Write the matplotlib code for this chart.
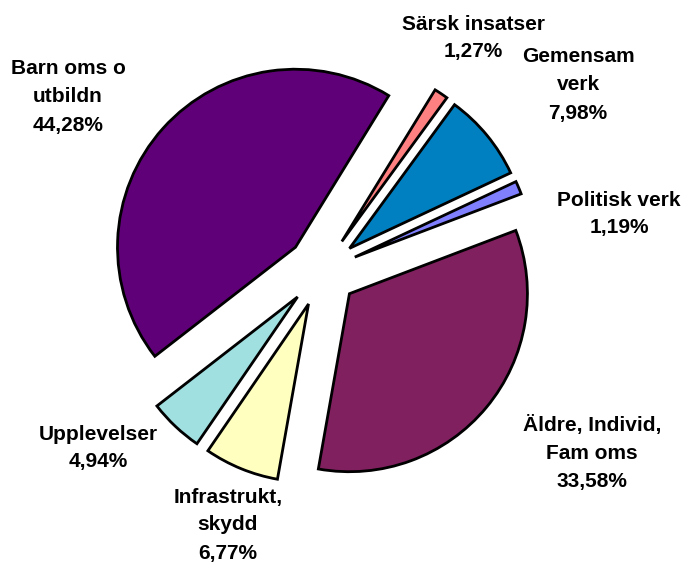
import matplotlib.pyplot as plt

# Andel per verksamhet (procent), medurs från toppen
names = ['Särsk insatser', 'Gemensam\nverk', 'Politisk verk',
         'Äldre, Individ,\nFam oms', 'Infrastrukt,\nskydd', 'Upplevelser',
         'Barn oms o\nutbildn']
shares = [1.27, 7.98, 1.19, 33.58, 6.77, 4.94, 44.28]
colors = ['#FF8080', '#0080C0', '#8080FF', '#80205F', '#FFFFC0', '#A0E0E0', '#600078']

# label centres in pixel coords (x, y from top)
label_pos = [(473, 38), (578, 85), (619, 214), (592, 453), (228, 525), (98, 448), (68, 97)]

W, H = 683, 562
R = 178
fig = plt.figure(figsize=(W / 100, H / 100), dpi=100)
ax = fig.add_axes([0, 0, 1, 1])

# explode is in data units here, so scale by radius
ax.pie(shares, explode=[0.2 * R] * len(shares), colors=colors,
       startangle=58.4, counterclock=False,
       radius=R, center=(322, H - 271),
       wedgeprops=dict(edgecolor='black', linewidth=2, joinstyle='miter'))

ax.set_xlim(0, W)
ax.set_ylim(0, H)
ax.set_aspect('equal')
ax.axis('off')

for name, v, (x, y) in zip(names, shares, label_pos):
    txt = name + '\n' + f'{v:.2f}'.replace('.', ',') + '%'
    ax.text(x, H - y, txt, ha='center', va='center', multialignment='center',
            fontsize=15, fontweight='bold', family='Liberation Sans',
            linespacing=1.6)

fig.savefig('out.png', dpi=100)
